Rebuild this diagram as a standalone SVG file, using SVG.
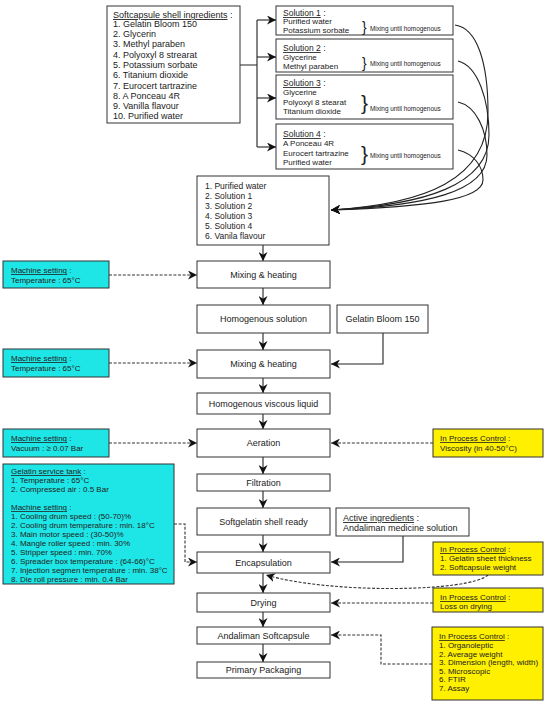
<svg xmlns="http://www.w3.org/2000/svg" width="550" height="707" viewBox="0 0 550 707">
<defs>
<marker id="ah" viewBox="0 0 10 10" refX="10" refY="5" markerWidth="9" markerHeight="9" markerUnits="userSpaceOnUse" orient="auto">
<path d="M0,0 L10,5 L0,10 L3,5 z" fill="#111"/>
</marker>
<style>
text{font-family:"Liberation Sans",Arial,sans-serif;fill:#222;}
.b{fill:#fff;stroke:#333;stroke-width:1;}
.cy{fill:#1fe6e6;stroke:#333;stroke-width:1;}
.ye{fill:#fff000;stroke:#333;stroke-width:1;}
.t9{font-size:9px;}
.t8{font-size:8px;}
.t85{font-size:8.5px;}
.c{text-anchor:middle;font-size:9px;}
.mx{font-size:6.4px;}
.u{text-decoration:underline;}
.ln{fill:none;stroke:#222;stroke-width:1.1;}
.ar{fill:none;stroke:#222;stroke-width:1.1;marker-end:url(#ah);}
.da{fill:none;stroke:#333;stroke-width:1.1;stroke-dasharray:3,1.6;marker-end:url(#ah);}
.dn{fill:none;stroke:#333;stroke-width:1.1;stroke-dasharray:3,1.6;}
</style>
</defs>
<rect width="550" height="707" fill="#fff"/>

<g id="connectors">
<path class="ln" d="M240,65 H257 M257,20 V147"/>
<path class="ar" d="M257,20 H276"/>
<path class="ar" d="M257,57 H276"/>
<path class="ar" d="M257,98 H276"/>
<path class="ar" d="M257,147 H276"/>
<path class="ar" d="M455,25 C478,28 488,65 488,112 C488,180 425,204 331,210"/>
<path class="ar" d="M458,61 C478,66 489,100 489,135 C489,185 425,205 331,210"/>
<path class="ar" d="M458,102 C476,106 487,130 487,155 C487,192 425,206 331,210"/>
<path class="ar" d="M458,150 C474,154 483,166 483,180 C483,200 425,207 331,210"/>
<path class="ar" d="M263,245 V261"/>
<path class="ar" d="M263,288 V305"/>
<path class="ar" d="M263,333 V350"/>
<path class="ar" d="M263,378 V393"/>
<path class="ar" d="M263,414 V429"/>
<path class="ar" d="M263,457 V474"/>
<path class="ar" d="M263,491 V508"/>
<path class="ar" d="M263,535 V552"/>
<path class="ar" d="M263,573 V593"/>
<path class="ar" d="M263,612 V627"/>
<path class="ar" d="M263,644 V662"/>
<path class="ar" d="M383,333 V364 H331"/>
<path class="ar" d="M403,536 V562 H331"/>
<path class="da" d="M109,275 H197"/>
<path class="da" d="M109,363 H197"/>
<path class="da" d="M109,443 H197"/>
<path class="da" d="M174,524 H185 V562 H197"/>
<path class="da" d="M433,443 H331"/>
<path class="da" d="M488,575 C470,592 330,594 266,575"/>
<path class="da" d="M433,603 H331"/>
<path class="da" d="M432,664 H381 V635 H331"/>
</g>

<g id="ingredients">
<rect class="b" x="107" y="6" width="133" height="117"/>
<text class="t9" x="113" y="18"><tspan class="u">Softcapsule shell ingredients</tspan> :</text>
<text class="t9" x="113" y="27">1. Gelatin Bloom 150</text>
<text class="t9" x="113" y="37">2. Glycerin</text>
<text class="t9" x="113" y="47">3. Methyl paraben</text>
<text class="t9" x="113" y="58">4. Polyoxyl 8 strearat</text>
<text class="t9" x="113" y="68">5. Potassium sorbate</text>
<text class="t9" x="113" y="78">6. Titanium dioxide</text>
<text class="t9" x="113" y="89">7. Eurocert tartrazine</text>
<text class="t9" x="113" y="99">8. A Ponceau 4R</text>
<text class="t9" x="113" y="109">9. Vanilla flavour</text>
<text class="t9" x="113" y="119">10. Purified water</text>
</g>

<g id="solution1">
<rect class="b" x="276" y="6" width="177" height="29"/>
<text class="t85" x="283" y="16"><tspan class="u">Solution 1</tspan> :</text>
<text class="t8" x="283" y="24">Purified water</text>
<text class="t8" x="283" y="33">Potassium sorbate</text>
<text x="362" y="32" style="font-size:14px">}</text>
<text class="mx" x="370" y="31">Mixing until homogenous</text>
</g>

<g id="solution2">
<rect class="b" x="276" y="39" width="177" height="33"/>
<text class="t85" x="283" y="51"><tspan class="u">Solution 2</tspan> :</text>
<text class="t8" x="283" y="60">Glycerine</text>
<text class="t8" x="283" y="69">Methyl paraben</text>
<text x="362" y="68" style="font-size:14px">}</text>
<text class="mx" x="370" y="66">Mixing until homogenous</text>
</g>

<g id="solution3">
<rect class="b" x="276" y="75" width="177" height="44"/>
<text class="t85" x="283" y="86"><tspan class="u">Solution 3</tspan> :</text>
<text class="t8" x="283" y="95">Glycerine</text>
<text class="t8" x="283" y="105">Polyoxyl 8 stearat</text>
<text class="t8" x="283" y="114">Titanium dioxide</text>
<text x="361" y="110" style="font-size:21px">}</text>
<text class="mx" x="370" y="111">Mixing until homogenous</text>
</g>

<g id="solution4">
<rect class="b" x="276" y="124" width="177" height="45"/>
<text class="t85" x="283" y="137"><tspan class="u">Solution 4</tspan> :</text>
<text class="t8" x="283" y="146">A Ponceau 4R</text>
<text class="t8" x="283" y="156">Eurocert tartrazine</text>
<text class="t8" x="283" y="165">Purified water</text>
<text x="361" y="161" style="font-size:21px">}</text>
<text class="mx" x="370" y="158">Mixing until homogenous</text>
</g>

<g id="mixlist">
<rect class="b" x="197" y="176" width="132" height="69"/>
<text class="t85" x="205" y="189">1. Purified water</text>
<text class="t85" x="205" y="199">2. Solution 1</text>
<text class="t85" x="205" y="209">3. Solution 2</text>
<text class="t85" x="205" y="219">4. Solution 3</text>
<text class="t85" x="205" y="229">5. Solution 4</text>
<text class="t85" x="205" y="239">6. Vanila flavour</text>
</g>

<g id="mixing1">
<rect class="b" x="197" y="261" width="133" height="27"/>
<text class="c" x="263.5" y="278">Mixing &amp; heating</text>
</g>
<g id="homsol">
<rect class="b" x="197" y="305" width="133" height="28"/>
<text class="c" x="263.5" y="322">Homogenous solution</text>
</g>
<g id="gelatin">
<rect class="b" x="337" y="305" width="91" height="28"/>
<text class="c" x="382.5" y="322">Gelatin Bloom 150</text>
</g>
<g id="mixing2">
<rect class="b" x="197" y="350" width="133" height="28"/>
<text class="c" x="263.5" y="367">Mixing &amp; heating</text>
</g>
<g id="viscous">
<rect class="b" x="197" y="393" width="133" height="21"/>
<text class="c" x="263.5" y="406.5">Homogenous viscous liquid</text>
</g>
<g id="aeration">
<rect class="b" x="197" y="429" width="133" height="28"/>
<text class="c" x="263.5" y="446">Aeration</text>
</g>
<g id="filtration">
<rect class="b" x="197" y="474" width="133" height="17"/>
<text class="c" x="263.5" y="485.5">Filtration</text>
</g>
<g id="shellready">
<rect class="b" x="197" y="508" width="133" height="27"/>
<text class="c" x="263.5" y="525">Softgelatin shell ready</text>
</g>
<g id="encapsulation">
<rect class="b" x="197" y="552" width="133" height="21"/>
<text class="c" x="263.5" y="565.5">Encapsulation</text>
</g>
<g id="drying">
<rect class="b" x="197" y="593" width="133" height="19"/>
<text class="c" x="263.5" y="605.5">Drying</text>
</g>
<g id="softcapsule">
<rect class="b" x="197" y="627" width="133" height="17"/>
<text class="c" x="263.5" y="638.5">Andaliman Softcapsule</text>
</g>
<g id="packaging">
<rect class="b" x="197" y="662" width="133" height="16"/>
<text class="c" x="263.5" y="673">Primary Packaging</text>
</g>

<g id="machine1">
<rect class="cy" x="3" y="261" width="106" height="27"/>
<text class="t8" x="11" y="273"><tspan class="u">Machine setting</tspan> :</text>
<text class="t8" x="11" y="283">Temperature : 65°C</text>
</g>
<g id="machine2">
<rect class="cy" x="3" y="349" width="106" height="28"/>
<text class="t8" x="11" y="361"><tspan class="u">Machine setting</tspan> :</text>
<text class="t8" x="11" y="371">Temperature : 65°C</text>
</g>
<g id="machine3">
<rect class="cy" x="3" y="429" width="106" height="28"/>
<text class="t8" x="11" y="441"><tspan class="u">Machine setting</tspan> :</text>
<text class="t8" x="11" y="451">Vacuum : ≥ 0.07 Bar</text>
</g>
<g id="tank">
<rect class="cy" x="3" y="464" width="171" height="120"/>
<text class="t8" x="11" y="474"><tspan class="u">Gelatin service tank</tspan> :</text>
<text class="t8" x="11" y="483">1. Temperature : 65°C</text>
<text class="t8" x="11" y="492">2. Compressed air : 0.5 Bar</text>
<text class="t8" x="11" y="510"><tspan class="u">Machine setting</tspan> :</text>
<text class="t8" x="11" y="519">1. Cooling drum speed : (50-70)%</text>
<text class="t8" x="11" y="528">2. Cooling drum temperature : min. 18°C</text>
<text class="t8" x="11" y="537">3. Main motor speed : (30-50)%</text>
<text class="t8" x="11" y="546">4. Mangle roller speed : min. 30%</text>
<text class="t8" x="11" y="555">5. Stripper speed : min. 70%</text>
<text class="t8" x="11" y="564">6. Spreader box temperature : (64-66)°C</text>
<text class="t8" x="11" y="573">7. Injection segmen temperature : min. 38°C</text>
<text class="t8" x="11" y="582">8. Die roll pressure : min. 0.4 Bar</text>
</g>

<g id="ipc1">
<rect class="ye" x="433" y="429" width="110" height="28"/>
<text class="t8" x="440" y="441"><tspan class="u">In Process Control</tspan> :</text>
<text class="t8" x="440" y="451">Viscosity (in 40-50°C)</text>
</g>
<g id="active">
<rect class="b" x="336" y="508" width="133" height="28"/>
<text class="t9" x="343" y="521"><tspan class="u">Active ingredients</tspan> :</text>
<text class="t9" x="343" y="531">Andaliman medicine solution</text>
</g>
<g id="ipc2">
<rect class="ye" x="433" y="542" width="110" height="33"/>
<text class="t8" x="440" y="552"><tspan class="u">In Process Control</tspan> :</text>
<text class="t8" x="440" y="561">1. Gelatin sheet thickness</text>
<text class="t8" x="440" y="570">2. Softcapsule weight</text>
</g>
<g id="ipc3">
<rect class="ye" x="433" y="588" width="110" height="24"/>
<text class="t8" x="440" y="600"><tspan class="u">In Process Control</tspan> :</text>
<text class="t8" x="440" y="609">Loss on drying</text>
</g>
<g id="ipc4">
<rect class="ye" x="432" y="627" width="111" height="73"/>
<text class="t8" x="439" y="639"><tspan class="u">In Process Control</tspan> :</text>
<text class="t8" x="439" y="648">1. Organoleptic</text>
<text class="t8" x="439" y="656.5">2. Average weight</text>
<text class="t8" x="439" y="665">3. Dimension (length, width)</text>
<text class="t8" x="439" y="673.5">5. Microscopic</text>
<text class="t8" x="439" y="682">6. FTIR</text>
<text class="t8" x="439" y="690.5">7. Assay</text>
</g>
</svg>
